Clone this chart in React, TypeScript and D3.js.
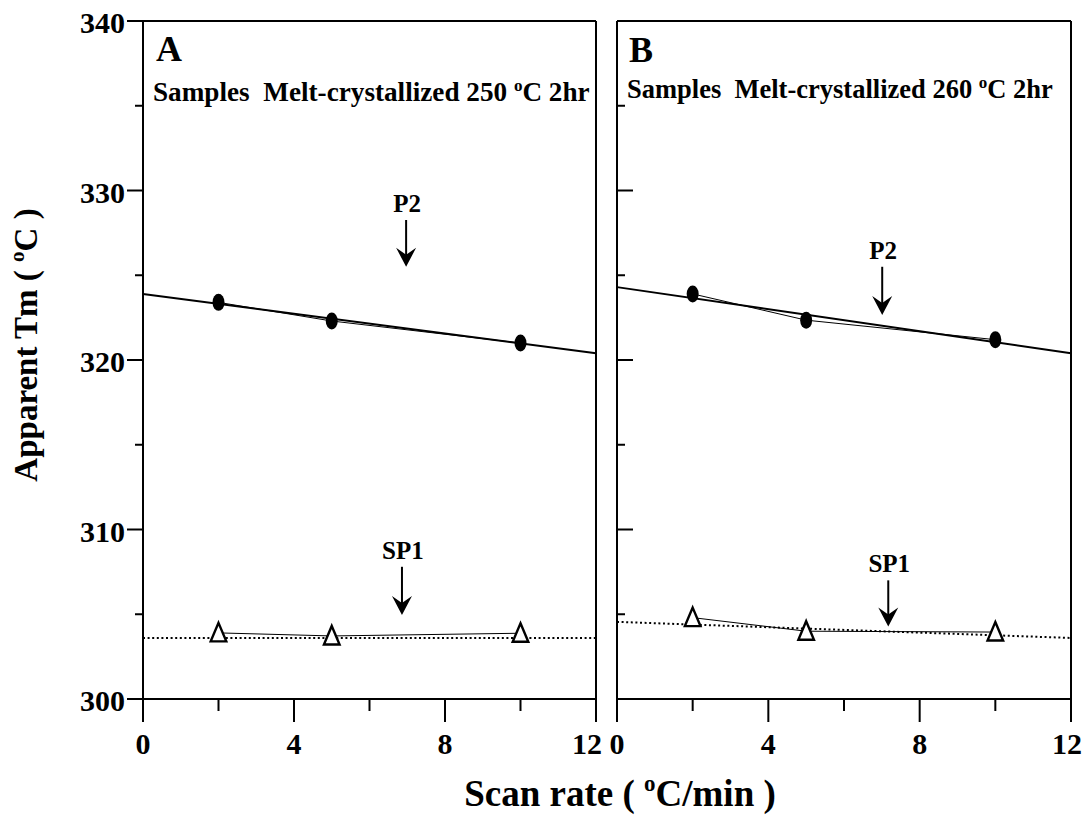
import React from "react";
import * as d3 from "d3";

// Scan rates (°C/min) at which both melting peaks were measured
const scanRates = [2, 5, 10];

// Apparent melting temperatures (°C), panel A: melt-crystallized 250 °C 2 hr
const p2A = [323.4, 322.3, 321.0];
const sp1A = [303.9, 303.72, 303.88];

// Panel B: melt-crystallized 260 °C 2 hr
const p2B = [323.9, 322.35, 321.2];
const sp1B = [304.8, 304.0, 303.95];

// Linear fits, values at scan rate 0 and 12
const fitX = [0, 12];
const fitP2A = [323.9, 320.4];
const fitSP1A = [303.6, 303.6];
const fitP2B = [324.3, 320.4];
const fitSP1B = [304.55, 303.6];

// Peak annotations: label, scan rate of the arrow, arrow top and tip (°C)
const arrowsA = [
  { label: "P2", x: 6.97, top: 328.26, tip: 325.5 },
  { label: "SP1", x: 6.86, top: 307.8, tip: 304.96 },
];
const arrowsB = [
  { label: "P2", x: 7.01, top: 325.5, tip: 322.65 },
  { label: "SP1", x: 7.17, top: 307.0, tip: 304.27 },
];

const yMajor = [300, 310, 320, 330, 340];
const yMinor = [305, 315, 325, 335];
const xMajor = [0, 4, 8, 12];
const xMinor = [2, 6, 10];

const W = 1083;
const H = 815;
const TOP = 21;
const BOTTOM = 699;
const serif = "'Liberation Serif','Times New Roman',Times,serif";

const y = d3.scaleLinear().domain([300, 340]).range([BOTTOM, TOP]);

type Arrow = { label: string; x: number; top: number; tip: number };

type PanelProps = {
  letter: string;
  temp: string;
  x0: number;
  x1: number;
  p2: number[];
  sp1: number[];
  fitP2: number[];
  fitSP1: number[];
  arrows: Arrow[];
  ticksOutward: boolean;
  lastLabelDx: number;
  subtitleBaseline: number;
  subtitleSize: number;
  letterBaseline: number;
};

function Panel(props: PanelProps) {
  const {
    letter, temp, x0, x1, p2, sp1, fitP2, fitSP1, arrows,
    ticksOutward, lastLabelDx, subtitleBaseline, subtitleSize, letterBaseline,
  } = props;
  const x = d3.scaleLinear().domain([0, 12]).range([x0, x1]);
  const line = d3
    .line<[number, number]>()
    .x((d) => x(d[0]))
    .y((d) => y(d[1]));
  const pts = (vals: number[]) =>
    scanRates.map((r, i) => [r, vals[i]] as [number, number]);
  const fit = (vals: number[]) =>
    fitX.map((r, i) => [r, vals[i]] as [number, number]);
  const dir = ticksOutward ? -1 : 1;
  const tickBottom = BOTTOM + 23;

  return (
    <g>
      {/* frame */}
      <line x1={x0} x2={x1} y1={TOP} y2={TOP} stroke="#000" strokeWidth={2} />
      <line x1={x0} x2={x1} y1={BOTTOM} y2={BOTTOM} stroke="#000" strokeWidth={2} />
      <line x1={x0} x2={x0} y1={TOP} y2={tickBottom} stroke="#000" strokeWidth={2} />
      <line x1={x1} x2={x1} y1={TOP} y2={tickBottom} stroke="#000" strokeWidth={2} />

      {/* y ticks */}
      {yMajor.map((v) => (
        <line key={"ym" + v} x1={x0} x2={x0 + dir * 16} y1={y(v)} y2={y(v)} stroke="#000" strokeWidth={2} />
      ))}
      {yMinor.map((v) => (
        <line key={"yn" + v} x1={x0} x2={x0 + dir * 8} y1={y(v)} y2={y(v)} stroke="#000" strokeWidth={2} />
      ))}

      {/* x ticks */}
      {xMajor.map((v) => (
        <line key={"xm" + v} x1={x(v)} x2={x(v)} y1={BOTTOM} y2={tickBottom} stroke="#000" strokeWidth={2} />
      ))}
      {xMinor.map((v) => (
        <line key={"xn" + v} x1={x(v)} x2={x(v)} y1={BOTTOM} y2={BOTTOM + 12} stroke="#000" strokeWidth={2} />
      ))}
      {xMajor.map((v, i) => (
        <text
          key={"xl" + v}
          x={x(v) + (i === xMajor.length - 1 ? lastLabelDx : 0)}
          y={754}
          textAnchor="middle"
          fontFamily={serif}
          fontWeight="bold"
          fontSize={30}
        >
          {v}
        </text>
      ))}

      {/* panel letter and sample description */}
      <text x={letter === "A" ? 156 : x0 + 12} y={letterBaseline} fontFamily={serif} fontWeight="bold" fontSize={36}>
        {letter}
      </text>
      <text
        x={x0 + 10}
        y={subtitleBaseline}
        fontFamily={serif}
        fontWeight="bold"
        fontSize={subtitleSize}
        style={{ whiteSpace: "pre" }}
      >
        {"Samples  Melt-crystallized " + temp + " "}
        <tspan fontSize={17} dy={-10}>o</tspan>
        <tspan dy={10}>{"C 2hr"}</tspan>
      </text>

      {/* fit lines */}
      <path d={line(fit(fitP2)) || ""} fill="none" stroke="#000" strokeWidth={2} />
      <path d={line(fit(fitSP1)) || ""} fill="none" stroke="#000" strokeWidth={2} strokeDasharray="2 2.6" />

      {/* measured points joined */}
      <path d={line(pts(p2)) || ""} fill="none" stroke="#000" strokeWidth={1} />
      <path d={line(pts(sp1)) || ""} fill="none" stroke="#000" strokeWidth={1} />

      {pts(p2).map((d, i) => (
        <ellipse key={"p" + i} cx={x(d[0])} cy={y(d[1])} rx={6} ry={8.5} fill="#000" />
      ))}
      {pts(sp1).map((d, i) => {
        const cx = x(d[0]);
        const cy = y(d[1]);
        return (
          <path
            key={"s" + i}
            d={`M${cx},${cy - 10}L${cx + 7.8},${cy + 8.5}L${cx - 7.8},${cy + 8.5}Z`}
            fill="#fff"
            stroke="#000"
            strokeWidth={2.4}
            strokeLinejoin="miter"
          />
        );
      })}

      {/* peak arrows */}
      {arrows.map((a) => {
        const ax = x(a.x);
        const yt = y(a.top);
        const yp = y(a.tip);
        return (
          <g key={a.label}>
            <text x={ax + 1} y={yt - 8} textAnchor="middle" fontFamily={serif} fontWeight="bold" fontSize={25}>
              {a.label}
            </text>
            <line x1={ax} x2={ax} y1={yt} y2={yp - 8} stroke="#000" strokeWidth={2} />
            <path
              d={`M${ax},${yp}L${ax - 10},${yp - 19}L${ax},${yp - 12}L${ax + 10},${yp - 19}Z`}
              fill="#000"
            />
          </g>
        );
      })}
    </g>
  );
}

export default function App() {
  return (
    <svg
      width={W}
      height={H}
      viewBox={`0 0 ${W} ${H}`}
      style={{ position: "absolute", left: 0, top: 0, background: "#fff" }}
    >
      <rect width={W} height={H} fill="#fff" />

      {/* y tick labels, shared by both panels */}
      {yMajor.map((v) => (
        <text key={v} x={125} y={y(v) + 12} textAnchor="end" fontFamily={serif} fontWeight="bold" fontSize={30}>
          {v}
        </text>
      ))}

      <Panel
        letter="A"
        temp="250"
        x0={143}
        x1={596}
        p2={p2A}
        sp1={sp1A}
        fitP2={fitP2A}
        fitSP1={fitSP1A}
        arrows={arrowsA}
        ticksOutward={true}
        lastLabelDx={-9}
        subtitleBaseline={101}
        subtitleSize={27.2}
        letterBaseline={61}
      />
      <Panel
        letter="B"
        temp="260"
        x0={617}
        x1={1071}
        p2={p2B}
        sp1={sp1B}
        fitP2={fitP2B}
        fitSP1={fitSP1B}
        arrows={arrowsB}
        ticksOutward={false}
        lastLabelDx={-4}
        subtitleBaseline={98}
        subtitleSize={26.5}
        letterBaseline={62}
      />

      {/* axis titles */}
      <text
        transform="translate(37,345) rotate(-90)"
        textAnchor="middle"
        fontFamily={serif}
        fontWeight="bold"
        fontSize={33}
      >
        {"Apparent Tm ( "}
        <tspan fontSize={21} dy={-13}>o</tspan>
        <tspan dy={13}>{"C )"}</tspan>
      </text>
      <text x={620} y={806} textAnchor="middle" fontFamily={serif} fontWeight="bold" fontSize={37}>
        {"Scan rate ( "}
        <tspan fontSize={23} dy={-15}>o</tspan>
        <tspan dy={15}>{"C/min )"}</tspan>
      </text>
    </svg>
  );
}
